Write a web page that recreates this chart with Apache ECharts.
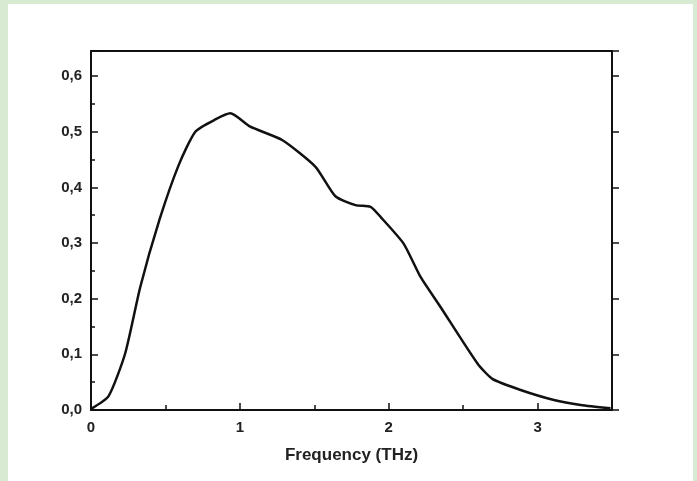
<!DOCTYPE html>
<html>
<head>
<meta charset="utf-8">
<script src="https://cdn.jsdelivr.net/npm/echarts@6/dist/echarts.min.js"></script>
<style>
    html, body { margin: 0; padding: 0; background: #d9ead3; width: 697px; height: 481px; overflow: hidden; }
    #chart { position: absolute; left: 8px; top: 4px; width: 685px; height: 477px; background: #ffffff; }
</style>
</head>
<body>
<div id="chart"></div>
<script>
// Frequency (THz) vs amplitude
const freq = [0, 0.118, 0.23, 0.331, 0.459, 0.589, 0.701, 0.836, 0.936, 1.07, 1.284, 1.508, 1.642, 1.777, 1.878, 1.945, 2.10, 2.214, 2.348, 2.595, 2.696, 2.886, 3.11, 3.29, 3.49];
const amplitude = [0.002, 0.025, 0.102, 0.221, 0.341, 0.44, 0.50, 0.522, 0.533, 0.509, 0.485, 0.437, 0.384, 0.368, 0.365, 0.347, 0.299, 0.239, 0.185, 0.084, 0.056, 0.036, 0.018, 0.009, 0.003];
const xTicks = ['0', '1', '2', '3'];
const yTicks = ['0,0', '0,1', '0,2', '0,3', '0,4', '0,5', '0,6'];

const chart = echarts.init(document.getElementById('chart'));

const axisLine = { show: true, onZero: false, lineStyle: { color: '#111', width: 2 } };
const labelFont = { color: '#222', fontFamily: 'Liberation Sans', fontWeight: 'bold', fontSize: 15 };

function xLabel(v) {
    const i = Math.round(v);
    return Math.abs(v - i) < 1e-6 && xTicks[i] !== undefined ? xTicks[i] : '';
}
function yLabel(v) {
    const i = Math.round(v * 10);
    return Math.abs(v * 10 - i) < 1e-6 && yTicks[i] !== undefined ? yTicks[i] : '';
}

const option = {
    animation: false,
    backgroundColor: '#ffffff',
    grid: { left: 83, right: 81, top: 47, bottom: 71 },
    xAxis: [
        {
            type: 'value', min: 0, max: 3.5, interval: 1, position: 'bottom',
            name: 'Frequency (THz)', nameLocation: 'middle', nameGap: 37,
            nameTextStyle: { color: '#222', fontFamily: 'Liberation Sans', fontWeight: 'bold', fontSize: 17 },
            axisLine: axisLine,
            axisTick: { show: true, inside: true, length: 7, lineStyle: { color: '#111', width: 1.5 } },
            minorTick: { show: true, splitNumber: 2, length: 5, lineStyle: { color: '#111', width: 1.5 } },
            axisLabel: Object.assign({ margin: 10, formatter: xLabel }, labelFont),
            splitLine: { show: false }
        },
        {
            type: 'value', min: 0, max: 3.5, interval: 1, position: 'top',
            axisLine: axisLine, axisTick: { show: false }, axisLabel: { show: false }, splitLine: { show: false }
        }
    ],
    yAxis: [
        {
            type: 'value', min: 0, max: 0.645, interval: 0.1, position: 'left',
            axisLine: axisLine,
            axisTick: { show: true, inside: true, length: 7, lineStyle: { color: '#111', width: 1.5 } },
            minorTick: { show: true, splitNumber: 2, length: 4, lineStyle: { color: '#111', width: 1.5 } },
            axisLabel: Object.assign({ margin: 9, formatter: yLabel }, labelFont),
            splitLine: { show: false }
        },
        {
            type: 'value', min: 0, max: 0.645, interval: 0.1, position: 'right',
            axisLine: axisLine,
            axisTick: { show: true, inside: false, length: 7, lineStyle: { color: '#111', width: 1.5 } },
            axisLabel: { show: false }, splitLine: { show: false }
        }
    ],
    series: [
        {
            type: 'line',
            data: freq.map((f, i) => [f, amplitude[i]]),
            showSymbol: false,
            smooth: 0.2,
            lineStyle: { color: '#111', width: 2.5 }
        }
    ]
};

chart.setOption(option);
</script>
</body>
</html>
